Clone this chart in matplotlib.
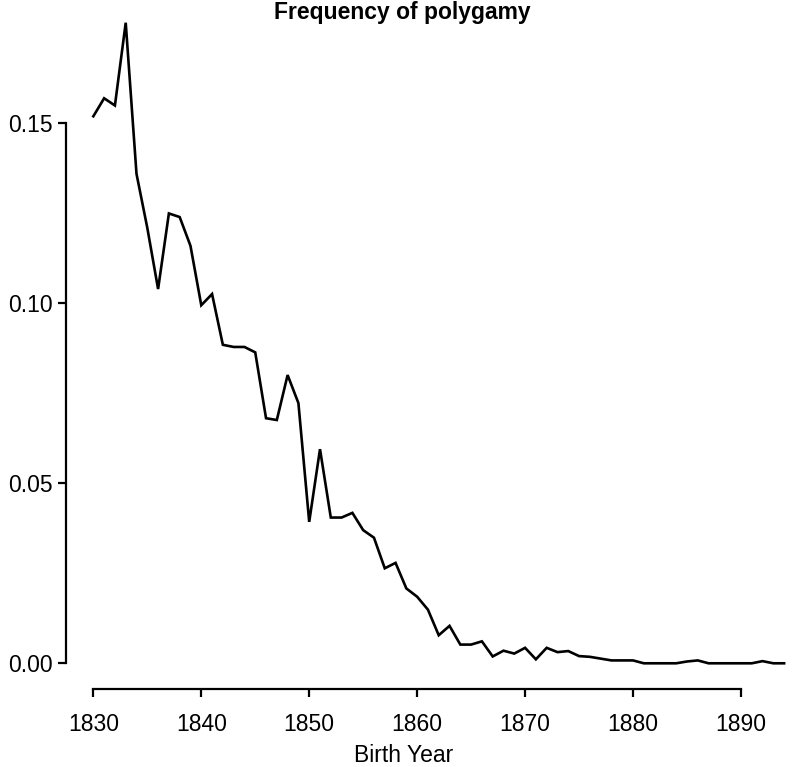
from matplotlib import pyplot as plt
import numpy as np

plt.rcParams['font.family'] = ['Liberation Sans', 'DejaVu Sans']

# birth years and frequency of polygamy
years = np.arange(1830, 1895)
freq = [0.152, 0.157, 0.155, 0.178, 0.136, 0.121, 0.104, 0.125, 0.124, 0.116,
        0.0995, 0.1026, 0.0885, 0.0879, 0.0879, 0.0864, 0.0681, 0.0676, 0.0801, 0.0723,
        0.0393, 0.0595, 0.0405, 0.0405, 0.0418, 0.0370, 0.0349, 0.0264, 0.0279, 0.0208,
        0.0185, 0.0149, 0.0078, 0.0104, 0.0052, 0.0052, 0.0061, 0.0019, 0.0035, 0.0027,
        0.0043, 0.0011, 0.0043, 0.0031, 0.0034, 0.0020, 0.0018, 0.0013, 0.0008, 0.0008,
        0.0008, 0.0, 0.0, 0.0, 0.0, 0.0005, 0.0008, 0.0, 0.0, 0.0,
        0.0, 0.0, 0.0006, 0.0, 0.0]
xticks = [1830, 1840, 1850, 1860, 1870, 1880, 1890]
yticks = [0.00, 0.05, 0.10, 0.15]
yticklabels = ["0.00", "0.05", "0.10", "0.15"]

W, H = 792, 767
fig = plt.figure(figsize=(W / 100, H / 100), dpi=100)
# R-like plot region (4% padding on each side), right part falls outside the picture
ax = fig.add_axes([65.7 / W, 0.1018, 0.942, 0.902])

ax.plot(years, freq, color="black", lw=1.9, solid_joinstyle="miter")

xr = years.max() - years.min()
ax.set_xlim(years.min() - 0.04 * xr, years.max() + 0.04 * xr)
yr = max(freq) - min(freq)
ax.set_ylim(min(freq) - 0.04 * yr, max(freq) + 0.04 * yr)

ax.set_xticks(xticks)
ax.set_xticklabels([str(t) for t in xticks])
ax.set_yticks(yticks)
ax.set_yticklabels(yticklabels)

for s in ["top", "right"]:
    ax.spines[s].set_visible(False)
ax.spines["left"].set_bounds(0, 0.15)
ax.spines["bottom"].set_bounds(1830, 1890)
for s in ["left", "bottom"]:
    ax.spines[s].set_linewidth(1.6)

ax.tick_params(axis="x", direction="out", length=6, width=1.6, labelsize=16.5, pad=11)
ax.tick_params(axis="y", direction="out", length=6, width=1.6, labelsize=16.5, pad=3.5)

fig.text(402 / W, (H - 18.5) / H, "Frequency of polygamy", ha="center", va="baseline",
         fontsize=16.5, fontweight="bold")
fig.text(404 / W, 5.5 / H, "Birth Year", ha="center", va="baseline", fontsize=16.5)

fig.savefig("out.png", dpi=100)
